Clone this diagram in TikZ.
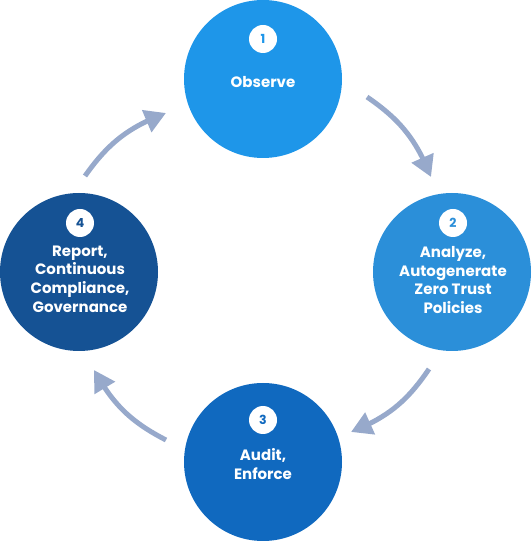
\documentclass[tikz,border=0pt]{standalone}
\usepackage{fontspec}
\setmainfont{Poppins}
\usetikzlibrary{arrows.meta,bending}
\definecolor{cA}{HTML}{1E96E9}
\definecolor{cB}{HTML}{2B8FD9}
\definecolor{cC}{HTML}{1069BF}
\definecolor{cD}{HTML}{155294}
\definecolor{arr}{HTML}{97A9CB}
\tikzset{
  stage/.style={circle,minimum size=158pt,inner sep=0pt},
  badge/.style={circle,fill=white,minimum size=28pt,inner sep=0pt,font=\fontsize{12.5}{14}\selectfont\bfseries},
  lbl/.style={text=white,align=center,font=\fontsize{15}{18.8}\selectfont\bfseries},
  cyc/.style={draw=arr,line width=5pt,-{Triangle[width=23pt,length=21pt,flex]}}
}
\begin{document}
\begin{tikzpicture}[x=1pt,y=1pt]
\useasboundingbox (0,0) rectangle (531,541);
\node[stage,fill=cA] (s1) at (263,462) {};
\node[stage,fill=cB] (s2) at (452,269) {};
\node[stage,fill=cC] (s3) at (263,79) {};
\node[stage,fill=cD] (s4) at (79,269) {};
\node[badge,text=cA] (b1) at (263,502) {1};
\node[badge,text=cB] (b2) at (453,318) {2};
\node[badge,text=cC] (b3) at (263,121) {3};
\node[badge,text=cD] (b4) at (80,318) {4};
\node[lbl] (t1) at (263,459) {Observe};
\node[lbl] (t2) at (453,261) {Analyze,\\Autogenerate\\Zero Trust\\Policies};
\node[lbl] (t3) at (263,77) {Audit,\\Enforce};
\node[lbl] (t4) at (80,262) {Report,\\Continuous\\Compliance,\\Governance};
\coordinate (a1s) at (367,444);
\coordinate (a1e) at (431,364);
\coordinate (a2s) at (429,172);
\coordinate (a2e) at (351,109);
\coordinate (a3s) at (166,101);
\coordinate (a3e) at (94,171);
\coordinate (a4s) at (85,365);
\coordinate (a4e) at (166,428);
\draw[cyc] (a1s) to[bend left=17] (a1e);
\draw[cyc] (a2s) to[bend left=17] (a2e);
\draw[cyc] (a3s) to[bend left=17] (a3e);
\draw[cyc] (a4s) to[bend left=17] (a4e);
\end{tikzpicture}
\end{document}
